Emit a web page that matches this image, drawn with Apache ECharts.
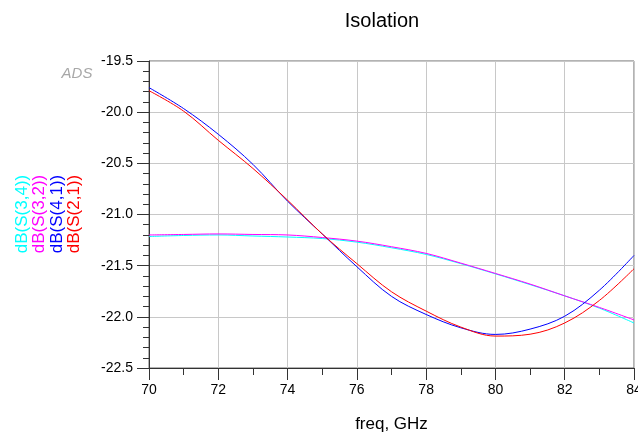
<!DOCTYPE html>
<html>
<head>
<meta charset="utf-8">
<script src="https://cdn.jsdelivr.net/npm/echarts@6/dist/echarts.min.js"></script>
<style>html,body{margin:0;padding:0;background:#fff}#c{width:638px;height:435px}</style>
</head>
<body>
<div id="c"></div>
<script>
const freq = [70, 71, 72, 73, 74, 75, 76, 77, 78, 79, 80, 81, 82, 83, 84];
const s34 = [-21.215, -21.205, -21.2, -21.21, -21.22, -21.235, -21.27, -21.325, -21.39, -21.48, -21.58, -21.685, -21.795, -21.915, -22.06];
const s32 = [-21.2, -21.195, -21.19, -21.195, -21.2, -21.225, -21.26, -21.315, -21.38, -21.475, -21.576, -21.68, -21.795, -21.908, -22.03];
const s41 = [-19.76, -19.965, -20.216, -20.51, -20.87, -21.19, -21.51, -21.8, -21.977, -22.107, -22.172, -22.12, -21.994, -21.74, -21.4];
const s21 = [-19.79, -19.99, -20.275, -20.55, -20.86, -21.19, -21.48, -21.755, -21.944, -22.1, -22.188, -22.17, -22.06, -21.84, -21.53];
const seriesNames = ['dB(S(3,4))', 'dB(S(3,2))', 'dB(S(4,1))', 'dB(S(2,1))'];
const seriesColors = ['#00ffff', '#ff00ff', '#0000ff', '#ff0000'];
const seriesData = [s34, s32, s41, s21];

const FONT = "'Liberation Sans', Arial, sans-serif";
const chart = echarts.init(document.getElementById('c'), null, {renderer: 'canvas'});

const legendX = [22, 39, 57, 74];
const graphics = seriesNames.map((n, i) => ({
  type: 'text', x: legendX[i], y: 214, rotation: Math.PI / 2,
  style: {text: n, fill: seriesColors[i], font: '17px ' + FONT, textAlign: 'center', textVerticalAlign: 'middle'}
}));
graphics.push({
  type: 'text', x: 77, y: 74,
  style: {text: 'ADS', fill: '#a8a8a8', font: 'italic 15px ' + FONT, textAlign: 'center', textVerticalAlign: 'middle'}
});
graphics.push({
  type: 'text', x: 382, y: 21,
  style: {text: 'Isolation', fill: '#000', font: '20px ' + FONT, textAlign: 'center', textVerticalAlign: 'middle'}
});

chart.setOption({
  animation: false,
  backgroundColor: '#fff',
  grid: {left: 149, right: 4, top: 61, bottom: 67, show: true, borderColor: '#666', borderWidth: 1, outerBoundsMode: 'none', containLabel: false},
  xAxis: {
    type: 'value', min: 70, max: 84, interval: 2,
    name: 'freq, GHz', nameLocation: 'middle', nameGap: 48,
    nameTextStyle: {fontFamily: FONT, fontSize: 17, color: '#000'},
    axisLine: {show: true, onZero: false, lineStyle: {color: '#333', width: 1}},
    axisTick: {show: true, length: 12, lineStyle: {color: '#333'}},
    minorTick: {show: true, splitNumber: 2, length: 7, lineStyle: {color: '#333'}},
    axisLabel: {fontFamily: FONT, fontSize: 14, color: '#000', margin: 15, hideOverlap: false},
    splitLine: {show: true, lineStyle: {color: '#c8c8c8', width: 1}}
  },
  yAxis: {
    type: 'value', min: -22.5, max: -19.5, interval: 0.5,
    axisLine: {show: true, onZero: false, lineStyle: {color: '#333', width: 1}},
    axisTick: {show: true, length: 12, lineStyle: {color: '#333'}},
    minorTick: {show: true, splitNumber: 5, length: 6, lineStyle: {color: '#333'}},
    axisLabel: {fontFamily: FONT, fontSize: 14, color: '#000', margin: 16, formatter: v => v.toFixed(1)},
    splitLine: {show: true, lineStyle: {color: '#c8c8c8', width: 1}}
  },
  series: seriesNames.map((n, i) => ({
    name: n, type: 'line', smooth: 0.35, showSymbol: false,
    data: freq.map((f, j) => [f, seriesData[i][j]]),
    lineStyle: {color: seriesColors[i], width: 1},
    itemStyle: {color: seriesColors[i]}
  })),
  graphic: graphics
});
</script>
</body>
</html>
